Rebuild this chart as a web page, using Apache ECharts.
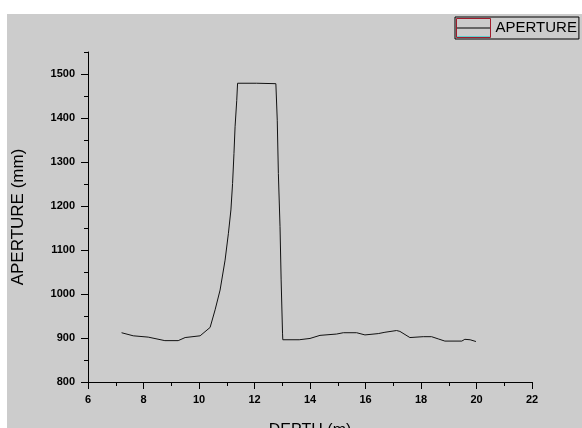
<!DOCTYPE html>
<html lang="en" style="height: 100%">
<head>
  <meta charset="utf-8">
</head>
<body style="height: 100%; margin: 0; background: #ffffff">
  <div id="container" style="position: absolute; left: 7px; top: 14px; width: 575px; height: 414px; background: #cccccc"></div>

  <script type="text/javascript" src="https://cdn.jsdelivr.net/npm/echarts@6/dist/echarts.min.js"></script>

  <script type="text/javascript">
    // values
    var depth = [7.21, 7.63, 8.17, 8.77, 9.25, 9.5, 10.04, 10.4, 10.58, 10.76, 10.94, 11.06, 11.15, 11.21,
      11.26, 11.3, 11.36, 11.39, 12.08, 12.14, 12.77, 12.82, 12.86, 12.92, 12.96, 13.01, 13.02, 13.61,
      14.0, 14.36, 14.96, 15.2, 15.68, 15.98, 16.46, 16.7, 17.12, 17.24, 17.6, 18.08, 18.38, 18.62,
      18.86, 19.47, 19.58, 19.77, 19.98];
    var aperture = [912, 905, 902, 894, 894, 901, 905, 924, 964, 1009, 1077, 1138, 1191, 1251,
      1319, 1380, 1440, 1479, 1479, 1477, 1478, 1395, 1274, 1153, 1032, 911, 896, 896,
      899, 906, 909, 912, 912, 907, 910, 913, 917, 915, 901, 903, 903, 898,
      893, 893, 897, 896, 892];
    var yTicks = [800, 900, 1000, 1100, 1200, 1300, 1400, 1500];
    var yMinorTicks = [850, 950, 1050, 1150, 1250, 1350, 1450, 1550];

    var dom = document.getElementById('container');
    var myChart = echarts.init(dom, null, { renderer: 'canvas' });

    var points = depth.map(function (d, i) { return [d, aperture[i]]; });
    var font = 'Liberation Sans';
    var plain = function (v) { return String(v); };

    var option = {
      animation: false,
      textStyle: { fontFamily: font },
      grid: { left: 81, top: 38, right: 50, bottom: 46, outerBoundsMode: 'none' },
      legend: {
        left: 448,
        top: 3,
        padding: [1, 2, 1, 1],
        borderColor: '#000',
        borderWidth: 1,
        itemWidth: 34,
        itemHeight: 19,
        icon: 'rect',
        itemStyle: { color: 'transparent', borderColor: '#a01c2c', borderWidth: 1 },
        textStyle: { color: '#000', fontSize: 15, fontFamily: font },
        data: ['APERTURE']
      },
      graphic: [
        { type: 'line', shape: { x1: 450, y1: 14, x2: 484, y2: 14 }, style: { stroke: '#000', lineWidth: 1 } },
        { type: 'line', shape: { x1: 450, y1: 22.5, x2: 484, y2: 22.5 }, style: { stroke: '#5fd0d0', lineWidth: 1 } }
      ],
      xAxis: {
        type: 'value',
        min: 6,
        max: 22,
        interval: 2,
        name: 'DEPTH (m)',
        nameLocation: 'middle',
        nameGap: 41,
        nameTextStyle: { color: '#000', fontSize: 16, fontFamily: font },
        axisLine: { lineStyle: { color: '#000', width: 1 } },
        axisTick: { length: 7, lineStyle: { color: '#000' } },
        minorTick: { show: true, splitNumber: 2, length: 4, lineStyle: { color: '#000' } },
        axisLabel: { color: '#000', fontSize: 11, fontWeight: 'bold', margin: 12, formatter: plain },
        splitLine: { show: false }
      },
      yAxis: [
        {
          type: 'value',
          min: 800,
          max: 1550,
          name: 'APERTURE (mm)',
          nameLocation: 'middle',
          nameGap: 61,
          nameTextStyle: { color: '#000', fontSize: 17, fontFamily: font },
          axisLine: { show: true, lineStyle: { color: '#000', width: 1 } },
          axisTick: { show: true, length: 7, customValues: yTicks, lineStyle: { color: '#000' } },
          axisLabel: { color: '#000', fontSize: 11, fontWeight: 'bold', margin: 13, customValues: yTicks, formatter: plain },
          splitLine: { show: false }
        },
        {
          type: 'value',
          position: 'left',
          min: 800,
          max: 1550,
          axisLine: { show: false },
          axisTick: { show: true, length: 4, customValues: yMinorTicks, lineStyle: { color: '#000' } },
          axisLabel: { show: false },
          splitLine: { show: false }
        }
      ],
      series: [
        {
          name: 'APERTURE',
          type: 'line',
          data: points,
          showSymbol: false,
          symbol: 'none',
          lineStyle: { color: '#111', width: 1 },
          itemStyle: { color: '#111' }
        }
      ]
    };

    myChart.setOption(option);
    window.addEventListener('resize', myChart.resize);
  </script>
</body>
</html>
